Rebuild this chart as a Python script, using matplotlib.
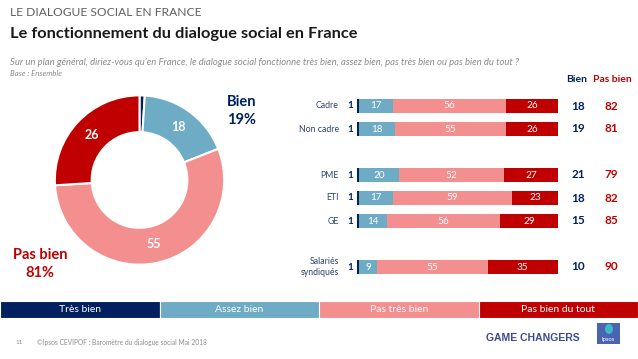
import matplotlib
matplotlib.use("Agg")
import matplotlib.pyplot as plt
from matplotlib.patches import Rectangle, Ellipse

W, H = 638, 359
plt.rcParams['font.family'] = ['Lato', 'DejaVu Sans']

NAVY = '#002060'
LBLUE = '#6EABC5'
PINK = '#F48F8F'
RED = '#C00000'

# ---------------- data ----------------
legend_labels = ['Très bien', 'Assez bien', 'Pas très bien', 'Pas bien du tout']
donut_values = [1, 18, 55, 26]
bien_total = 19
pas_bien_total = 81

groups = ['Cadre', 'Non cadre', 'PME', 'ETI', 'GE', 'Salariés\nsyndiqués']
tres_bien = [1, 1, 1, 1, 1, 1]
assez_bien = [17, 18, 20, 17, 14, 9]
pas_tres_bien = [56, 55, 52, 59, 56, 55]
pas_bien_du_tout = [26, 26, 27, 23, 29, 35]
bien = [18, 19, 21, 18, 15, 10]
pas_bien = [82, 81, 79, 82, 85, 90]

# ---------------- layout ----------------
fig = plt.figure(figsize=(W / 100, H / 100), dpi=100)
ov = fig.add_axes([0, 0, 1, 1])
ov.set_xlim(0, W)
ov.set_ylim(H, 0)
ov.axis('off')
renderer = fig.canvas.get_renderer()


def px_axes(x0, y0, x1, y1):
    return fig.add_axes([x0 / W, 1 - y1 / H, (x1 - x0) / W, (y1 - y0) / H])


def fit_text(x, y, s, target_w, **kw):
    t = ov.text(x, y, s, fontsize=10, **kw)
    w = t.get_window_extent(renderer).width
    t.set_fontsize(10 * target_w / w)
    return t


# titles
fit_text(10, 13, 'LE DIALOGUE SOCIAL EN FRANCE', 189, color='#606060',
         fontweight='normal', va='center', ha='left')
fit_text(10, 34, 'Le fonctionnement du dialogue social en France', 350,
         color='#1a1a1a', fontweight='bold', va='center', ha='left')
fit_text(10, 62, "Sur un plan général, diriez-vous qu’en France, le dialogue social "
         "fonctionne très bien, assez bien, pas très bien ou pas bien du tout ?",
         512, color='#8c8c8c', style='italic', va='center', ha='left')
fit_text(10, 74, 'Base : Ensemble', 52, color='#8c8c8c', style='italic',
         va='center', ha='left')

# ---------------- donut ----------------
axd = px_axes(54, 94.5, 225, 265.5)
axd.pie(donut_values, colors=[NAVY, LBLUE, PINK, RED], startangle=90,
        counterclock=False, radius=1,
        wedgeprops=dict(width=0.435, edgecolor='white', linewidth=1.5),
        autopct=lambda p: f'{p:.0f}' if p >= 5 else '', pctdistance=0.78,
        textprops=dict(color='white', fontweight='bold', fontsize=9))
axd.set_xlim(-1.01, 1.01)
axd.set_ylim(-1.01, 1.01)
axd.axis('off')

ov.text(242, 102, 'Bien', color=NAVY, fontweight='bold', fontsize=10.5,
        ha='center', va='center')
ov.text(242, 120, f'{bien_total}%', color=NAVY, fontweight='bold', fontsize=10.5,
        ha='center', va='center')
ov.text(40, 255, 'Pas bien', color=RED, fontweight='bold', fontsize=10.5,
        ha='center', va='center')
ov.text(40, 273, f'{pas_bien_total}%', color=RED, fontweight='bold', fontsize=10.5,
        ha='center', va='center')

# ---------------- bars ----------------
ypos = [0, 1, 3, 4, 5, 7]
axb = px_axes(357, 94.5, 558, 278.5)
axb.set_xlim(0, 100)
axb.set_ylim(7.5, -0.5)
axb.axis('off')

series = [tres_bien, assez_bien, pas_tres_bien, pas_bien_du_tout]
colors = [NAVY, LBLUE, PINK, RED]
left = [0] * len(groups)
for vals, col in zip(series, colors):
    bars = axb.barh(ypos, vals, left=left, height=0.59, color=col, linewidth=0)
    for b, v, l in zip(bars, vals, left):
        if col != NAVY:
            axb.text(l + v / 2, b.get_y() + b.get_height() / 2, f'{v}',
                     color='white', fontsize=7.2, ha='center', va='center')
    left = [a + b for a, b in zip(left, vals)]

for y, g, tb, bv, pv in zip(ypos, groups, tres_bien, bien, pas_bien):
    axb.text(-3.5, y, f'{tb}', color=NAVY, fontweight='bold', fontsize=7,
             ha='center', va='center', clip_on=False)
    axb.text(-9, y, g, color='#2F4470', fontsize=6.3, ha='right', va='center',
             clip_on=False, linespacing=1.3)
    axb.text(110, y, f'{bv}', color=NAVY, fontweight='bold', fontsize=8.5,
             ha='center', va='center', clip_on=False)
    axb.text(126.5, y, f'{pv}', color=RED, fontweight='bold', fontsize=8.5,
             ha='center', va='center', clip_on=False)

axb.text(109.5, -1.15, 'Bien', color=NAVY, fontweight='bold', fontsize=7.5,
         ha='center', va='center', clip_on=False)
axb.text(127, -1.15, 'Pas bien', color=RED, fontweight='bold', fontsize=7.5,
         ha='center', va='center', clip_on=False)

# ---------------- legend strip ----------------
bw = W / 4
for i, (lab, col) in enumerate(zip(legend_labels, colors)):
    ov.add_patch(Rectangle((i * bw, 301), bw, 17, facecolor=col,
                           edgecolor='white', linewidth=0.8))
    ov.text(i * bw + bw / 2, 309.5, lab, color='white', fontsize=7.5,
            ha='center', va='center')

# ---------------- footer ----------------
ov.text(15, 342, '11', color='#8c8c8c', fontsize=4.5, ha='left', va='center')
fit_text(37, 342, '©Ipsos CEVIPOF : Baromètre du dialogue social Mai 2018', 168,
         color='#8c8c8c', ha='left', va='center')
fit_text(486, 338, 'GAME CHANGERS', 93, color='#3D4A8F', fontweight='bold',
         family=['Liberation Sans', 'DejaVu Sans'], ha='left', va='center')
ov.add_patch(Rectangle((597, 323), 23, 21, facecolor='#4A64B0', edgecolor='none'))
ov.add_patch(Ellipse((609, 329), 8, 10, facecolor='#3FB6C9', edgecolor='none'))
ov.text(608.5, 339, 'Ipsos', color='white', fontsize=4.2, ha='center', va='center')

fig.savefig('out.png', dpi=100)
